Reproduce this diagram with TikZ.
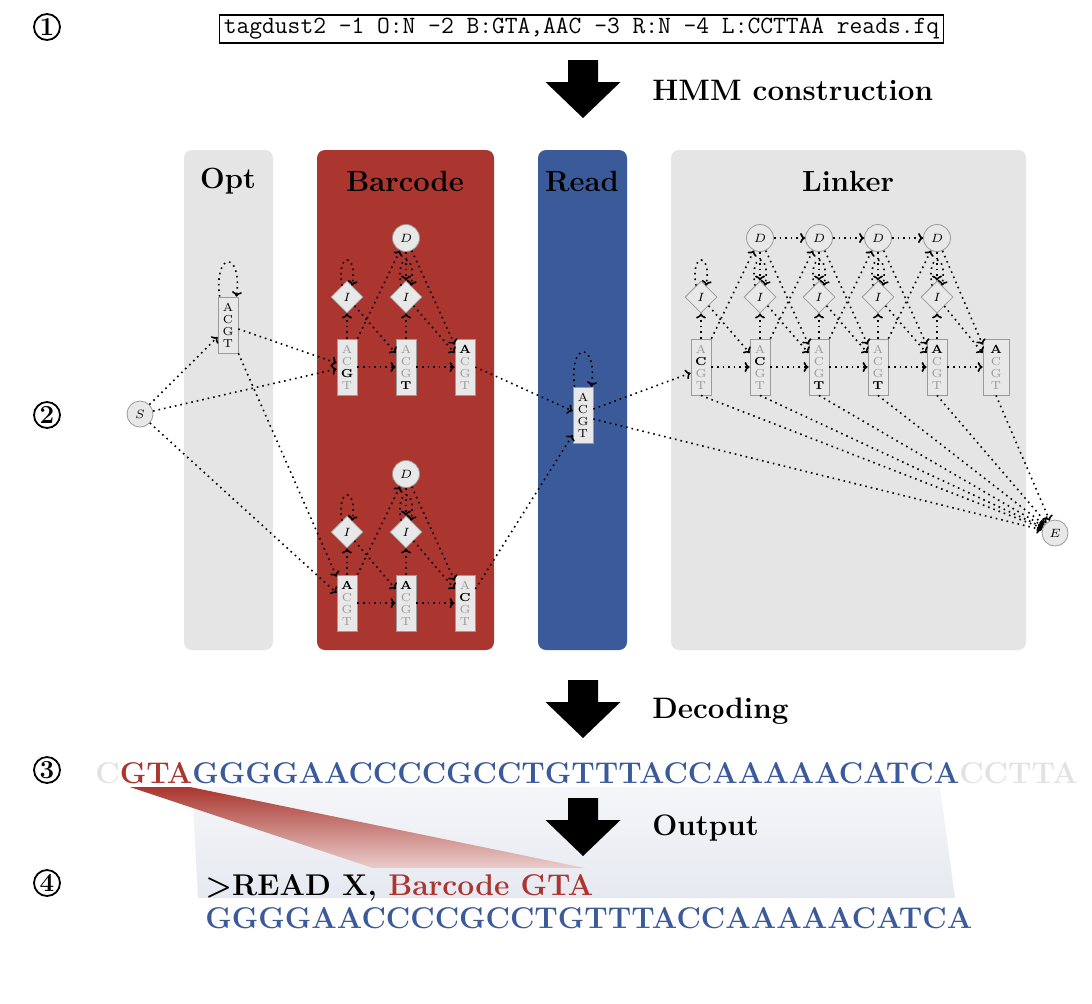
\documentclass[tikz,border=0pt]{standalone}
\usepackage{xcolor}
\usepackage{tikz}
\usetikzlibrary{arrows.meta, positioning, calc, shapes.geometric}

\definecolor{colgray}{HTML}{E5E5E5}
\definecolor{bcred}{HTML}{AA362F}
\definecolor{rdblue}{HTML}{3B5A9A}
\definecolor{stfill}{HTML}{E8E8E8}
\definecolor{stline}{HTML}{9A9A9A}
\definecolor{letgray}{HTML}{999999}
\definecolor{flankgray}{HTML}{E2E2E2}
\definecolor{shadetop}{HTML}{F5F6F8}
\definecolor{shadebot}{HTML}{E6E9F1}

\newcommand{\lo}[1]{\textcolor{letgray}{#1}}
\newcommand{\hi}[1]{\textbf{#1}}
\newcommand{\bigdown}[2]{\fill (#1-15,-#2) -- (#1+15,-#2) -- (#1+15,-#2-22) -- (#1+37.5,-#2-22)
  -- (#1,-#2-58) -- (#1-37.5,-#2-22) -- (#1-15,-#2-22) -- cycle;}

\begin{document}
\begin{tikzpicture}[x=0.5pt, y=0.5pt,
  num/.style={circle, draw, line width=0.9pt, minimum size=13pt, inner sep=0pt,
              font=\fontsize{13}{15}\selectfont\bfseries},
  cmd/.style={draw, line width=0.6pt, inner xsep=2pt, inner ysep=0pt, minimum height=14pt,
              font=\fontsize{12.4}{14}\selectfont\ttfamily},
  lab/.style={anchor=base west, inner sep=0pt, font=\fontsize{14.8}{17}\selectfont\bfseries},
  coltitle/.style={anchor=base, inner sep=0pt, font=\fontsize{14.6}{17}\selectfont\bfseries},
  emit/.style={draw=stline, fill=stfill, line width=0.4pt, minimum width=10pt, minimum height=28pt,
               inner sep=0.5pt, align=center, font=\fontsize{5.8}{6}\selectfont},
  del/.style={circle, draw=stline, fill=stfill, line width=0.4pt, minimum size=13.5pt, inner sep=0pt,
              font=\fontsize{6}{7}\selectfont},
  ins/.style={diamond, aspect=1, draw=stline, fill=stfill, line width=0.4pt, minimum size=16pt,
              inner sep=0pt, font=\fontsize{6}{7}\selectfont},
  term/.style={circle, draw=stline, fill=stfill, line width=0.4pt, minimum size=13pt, inner sep=0pt,
               font=\fontsize{6}{7}\selectfont},
  hmm/.style={dotted, line width=0.8pt, -{To[length=2.5pt, width=5pt]}},
  seq/.style={anchor=base west, inner sep=0pt, font=\fontsize{15}{17}\selectfont\bfseries}
]
\useasboundingbox (0,0) rectangle (1092,-1003);

% --- step numbers ---
\node[num] (num1) at (47,-27)  {1};
\node[num] (num2) at (47,-415) {2};
\node[num] (num3) at (47,-770) {3};
\node[num] (num4) at (47,-883) {4};

% --- command line and stage arrows ---
\node[cmd] (cmdline) at (581.5,-29) {tagdust2 -1 O:N -2 B:GTA,AAC -3 R:N -4 L:CCTTAA reads.fq};
\bigdown{583}{60}
\node[lab] (lblHMM) at (652,-100) {HMM construction};

% --- segment columns ---
\fill[colgray, rounded corners=4pt] (184,-150) rectangle (273,-650);
\fill[bcred,   rounded corners=4pt] (317,-150) rectangle (494,-650);
\fill[rdblue,  rounded corners=4pt] (538,-150) rectangle (627,-650);
\fill[colgray, rounded corners=4pt] (671,-150) rectangle (1026,-650);
\node[coltitle] (optT) at (228,-188) {Opt};
\node[coltitle] (bcT)  at (405,-191) {Barcode};
\node[coltitle] (rdT)  at (582,-191) {Read};
\node[coltitle] (lnkT) at (848,-191) {Linker};

% --- start, opt and read states ---
\node[term] (start) at (140,-414) {$S$};
\node[emit] (optM)  at (228,-325) {A\\C\\G\\T};
\node[emit] (readM) at (583,-415) {A\\C\\G\\T};
\node[term] (endE)  at (1055,-533) {$E$};

% --- barcode GTA ---
\node[del]  (gtaD)  at (406,-238) {$D$};
\node[ins]  (gtaI1) at (347,-297) {$I$};
\node[ins]  (gtaI2) at (406,-297) {$I$};
\node[emit] (gtaM1) at (347,-367) {\lo{A}\\\lo{C}\\\hi{G}\\\lo{T}};
\node[emit] (gtaM2) at (406,-367) {\lo{A}\\\lo{C}\\\lo{G}\\\hi{T}};
\node[emit] (gtaM3) at (465,-367) {\hi{A}\\\lo{C}\\\lo{G}\\\lo{T}};

% --- barcode AAC ---
\node[del]  (aacD)  at (406,-474) {$D$};
\node[ins]  (aacI1) at (347,-532) {$I$};
\node[ins]  (aacI2) at (406,-532) {$I$};
\node[emit] (aacM1) at (347,-603) {\hi{A}\\\lo{C}\\\lo{G}\\\lo{T}};
\node[emit] (aacM2) at (406,-603) {\hi{A}\\\lo{C}\\\lo{G}\\\lo{T}};
\node[emit] (aacM3) at (465,-603) {\lo{A}\\\hi{C}\\\lo{G}\\\lo{T}};

% --- linker CCTTAA ---
\node[del]  (lnkD2) at (760,-238) {$D$};
\node[del]  (lnkD3) at (819,-238) {$D$};
\node[del]  (lnkD4) at (878,-238) {$D$};
\node[del]  (lnkD5) at (937,-238) {$D$};
\node[ins]  (lnkI1) at (701,-297) {$I$};
\node[ins]  (lnkI2) at (760,-297) {$I$};
\node[ins]  (lnkI3) at (819,-297) {$I$};
\node[ins]  (lnkI4) at (878,-297) {$I$};
\node[ins]  (lnkI5) at (937,-297) {$I$};
\node[emit] (lnkM1) at (701,-367) {\lo{A}\\\hi{C}\\\lo{G}\\\lo{T}};
\node[emit] (lnkM2) at (760,-367) {\lo{A}\\\hi{C}\\\lo{G}\\\lo{T}};
\node[emit] (lnkM3) at (819,-367) {\lo{A}\\\lo{C}\\\lo{G}\\\hi{T}};
\node[emit] (lnkM4) at (878,-367) {\lo{A}\\\lo{C}\\\lo{G}\\\hi{T}};
\node[emit] (lnkM5) at (937,-367) {\hi{A}\\\lo{C}\\\lo{G}\\\lo{T}};
\node[emit, minimum width=13pt] (lnkM6) at (996,-367) {\hi{A}\\\lo{C}\\\lo{G}\\\lo{T}};

% --- transitions: start and opt ---
\draw[hmm] (start) -- ([yshift=-6pt]optM.west);
\draw[hmm] (start) -- ([yshift=-1pt]gtaM1.west);
\draw[hmm] (start) -- ([yshift=5pt]aacM1.west);
\draw[hmm] ([xshift=1pt]optM.north west) .. controls +(-3pt,23pt) and +(3pt,23pt) .. ([xshift=-1pt]optM.north east);
\draw[hmm] ([yshift=-2pt]optM.east) -- ([yshift=2pt]gtaM1.west);
\draw[hmm] (optM.south east) -- ([yshift=-1pt]aacM1.north west);

% --- transitions: barcodes ---
\foreach \bc in {gta, aac} {
  \draw[hmm] (\bc M1) -- (\bc M2);
  \draw[hmm] (\bc M2) -- (\bc M3);
  \draw[hmm] (\bc M1) -- (\bc I1);
  \draw[hmm] (\bc M2) -- (\bc I2);
  \draw[hmm] (\bc I1) -- ([yshift=7pt]\bc M2.west);
  \draw[hmm] (\bc I2) -- ([yshift=7pt]\bc M3.west);
  \draw[hmm] (\bc M1.north east) -- (\bc D);
  \draw[hmm] (\bc D) -- (\bc I2);
  \draw[hmm] (\bc D) -- ([yshift=-3pt]\bc M3.north west);
  \draw[hmm] ([xshift=-2.5pt,yshift=-2.5pt]\bc I1.north) .. controls +(-3pt,17pt) and +(3pt,17pt) .. ([xshift=2.5pt,yshift=-2.5pt]\bc I1.north);
  \draw[hmm] ([xshift=-2.5pt,yshift=-2.5pt]\bc I2.north) .. controls +(-3pt,17pt) and +(3pt,17pt) .. ([xshift=2.5pt,yshift=-2.5pt]\bc I2.north);
}

% --- transitions: read ---
\draw[hmm] (gtaM3.east) -- ([yshift=2pt]readM.west);
\draw[hmm] ([yshift=7pt]aacM3.east) -- ([yshift=-10pt]readM.west);
\draw[hmm] ([xshift=1pt]readM.north west) .. controls +(-3pt,23pt) and +(3pt,23pt) .. ([xshift=-1pt]readM.north east);
\draw[hmm] ([yshift=3pt]readM.east) -- ([yshift=-3pt]lnkM1.west);
\draw[hmm] ([yshift=-2pt]readM.east) -- (endE);

% --- transitions: linker ---
\foreach \i [count=\j from 2] in {1,...,5} {
  \draw[hmm] (lnkM\i) -- (lnkM\j);
  \draw[hmm] (lnkM\i) -- (lnkI\i);
  \draw[hmm] (lnkI\i) -- ([yshift=7pt]lnkM\j.west);
  \draw[hmm] ([xshift=-2.5pt,yshift=-2.5pt]lnkI\i.north) .. controls +(-3pt,17pt) and +(3pt,17pt) .. ([xshift=2.5pt,yshift=-2.5pt]lnkI\i.north);
}
\foreach \i [count=\j from 2] in {1,...,4}
  \draw[hmm] (lnkM\i.north east) -- (lnkD\j);
\foreach \i [count=\j from 3] in {2,...,4}
  \draw[hmm] (lnkD\i) -- (lnkD\j);
\foreach \i [count=\j from 3] in {2,...,5} {
  \draw[hmm] (lnkD\i) -- (lnkI\i);
  \draw[hmm] (lnkD\i) -- ([yshift=-3pt]lnkM\j.north west);
}
\foreach \i in {1,...,6}
  \draw[hmm] (lnkM\i.south) -- (endE);

% --- decoding ---
\bigdown{583}{680}
\node[lab] (lblDec) at (652,-718) {Decoding};

\shade[top color=shadetop, bottom color=shadebot] (192,-787) -- (940,-787) -- (955,-898) -- (198,-898) -- cycle;
\shade[top color=bcred, bottom color=bcred!25] (130,-787) -- (190,-787) -- (585,-868) -- (373,-868) -- cycle;

\node[seq] (rowDec) at (95,-783)
  {\textcolor{flankgray}{C}\textcolor{bcred}{GTA}\textcolor{rdblue}{GGGGAACCCCGCCTGTTTACCAAAAACATCA}\textcolor{flankgray}{CCTTA}};

% --- output ---
\bigdown{583}{798}
\node[lab] (lblOut) at (652,-835) {Output};
\node[seq] (outHead) at (205,-895) {>READ X, \textcolor{bcred}{Barcode GTA}};
\node[seq] (outSeq)  at (205,-928) {\textcolor{rdblue}{GGGGAACCCCGCCTGTTTACCAAAAACATCA}};

\end{tikzpicture}
\end{document}
